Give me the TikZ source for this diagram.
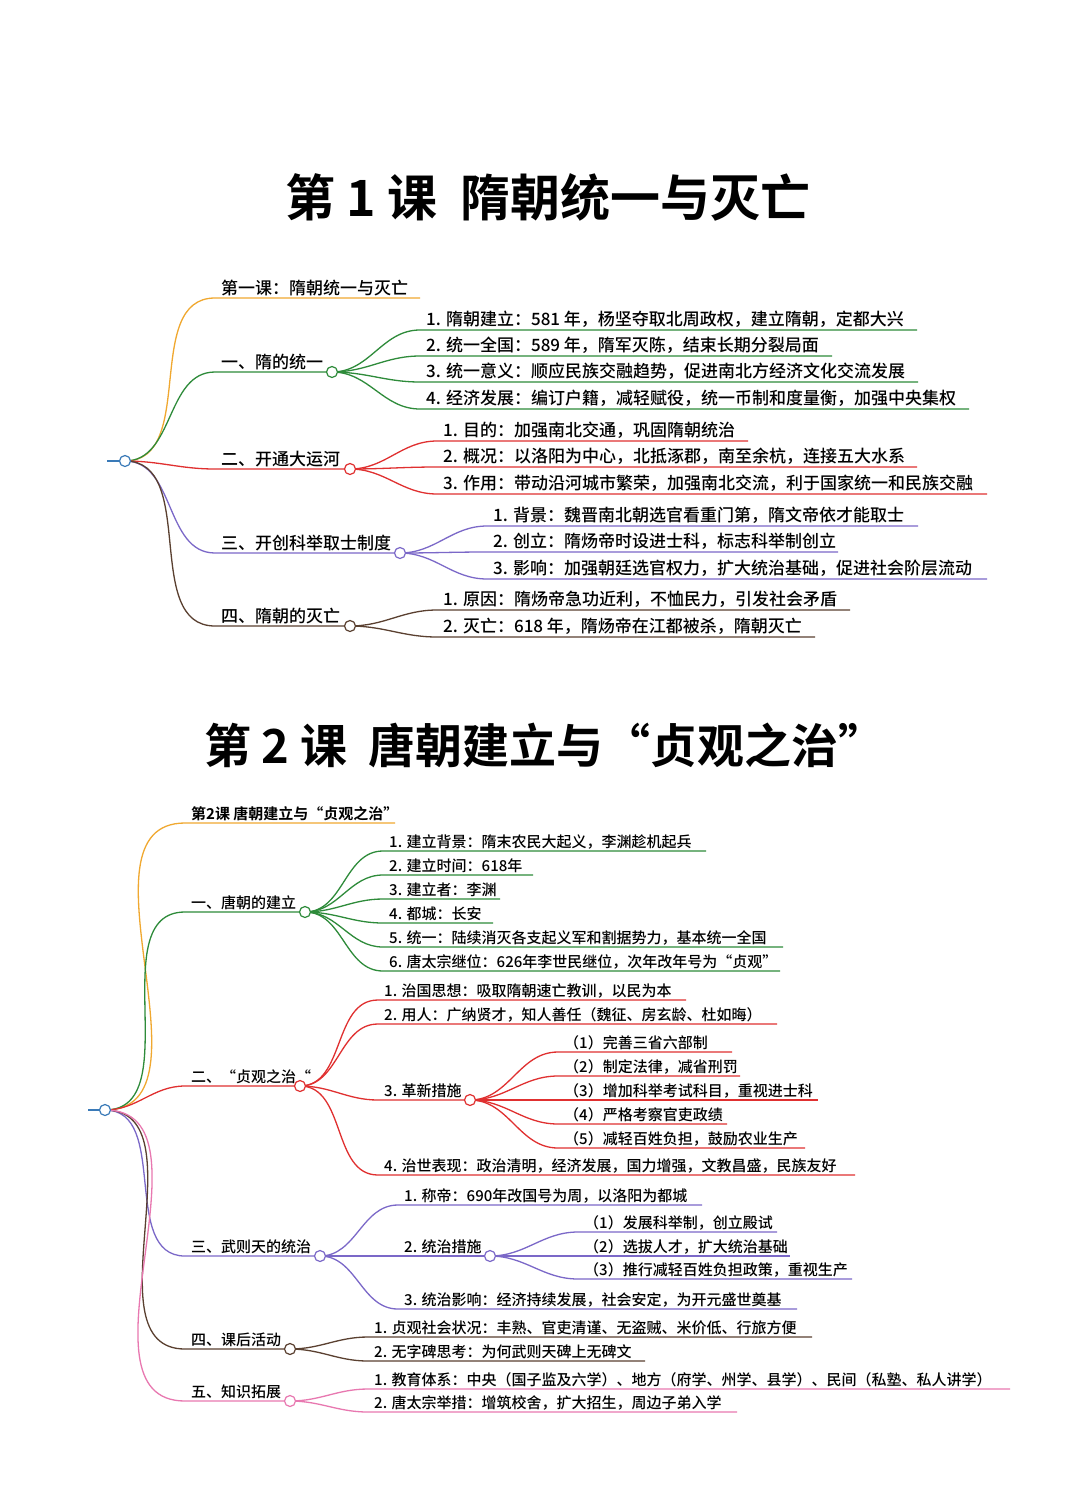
\documentclass[tikz,border=0pt]{standalone}
\usepackage{fontspec}
\setmainfont{Noto Sans CJK SC Medium}[BoldFont=Noto Sans CJK SC Bold]
\definecolor{cor}{HTML}{F0A830}
\definecolor{cgr}{HTML}{2E8B3A}
\definecolor{cre}{HTML}{E03030}
\definecolor{cpu}{HTML}{7B68C8}
\definecolor{cbr}{HTML}{5A4030}
\definecolor{cpk}{HTML}{E878B0}
\definecolor{cbl}{HTML}{3A7AB8}
\tikzset{
 lbl/.style={anchor=south west,inner sep=1pt,text=black},
 dot/.style={circle,draw=#1,fill=white,line width=1.2pt,inner sep=0pt,minimum size=11pt},
 br/.style={draw=#1,line width=1.3pt}
}
\newcommand\leaf[8]{% color, parent, x, y, xend, text, name, fontsize
 \coordinate (#7s) at (#3,#4); \coordinate (#7e) at (#5,#4);
 \draw[br=#1] (#2) to[out=0,in=180] (#7s) -- (#7e);
 \node[lbl,font=\fontsize{#8}{#8}\selectfont] (#7) at ([xshift=5pt,yshift=1pt]#7s) {#6};}
\begin{document}
\begin{tikzpicture}[x=1pt,y=-1pt]
\useasboundingbox[fill=white] (0,0) rectangle (1080,1512);
% ===== Section 1 =====
\node[font=\fontsize{50}{50}\selectfont\bfseries] (t1) at (548,197) {第 1 课\ \ 隋朝统一与灭亡};
\coordinate (r1a) at (107,461);
\coordinate (r1) at (125,461);
\draw[cbl,line width=2pt] (r1a) -- (r1);
\leaf{cor}{r1}{215}{298}{420}{第一课：隋朝统一与灭亡}{a0}{17}
\leaf{cgr}{r1}{215}{372}{332}{一、隋的统一}{a1}{17}
\leaf{cre}{r1}{215}{469}{350}{二、开通大运河}{a2}{17}
\leaf{cpu}{r1}{215}{553}{400}{三、开创科举取士制度}{a3}{17}
\leaf{cbr}{r1}{215}{626}{350}{四、隋朝的灭亡}{a4}{17}
\leaf{cgr}{a1e}{420}{330}{917}{1. 隋朝建立：581 年，杨坚夺取北周政权，建立隋朝，定都大兴}{a11}{17}
\leaf{cgr}{a1e}{420}{356}{832}{2. 统一全国：589 年，隋军灭陈，结束长期分裂局面}{a12}{17}
\leaf{cgr}{a1e}{420}{382}{918}{3. 统一意义：顺应民族交融趋势，促进南北方经济文化交流发展}{a13}{17}
\leaf{cgr}{a1e}{420}{409}{969}{4. 经济发展：编订户籍，减轻赋役，统一币制和度量衡，加强中央集权}{a14}{17}
\leaf{cre}{a2e}{437}{441}{748}{1. 目的：加强南北交通，巩固隋朝统治}{a21}{17}
\leaf{cre}{a2e}{437}{467}{917}{2. 概况：以洛阳为中心，北抵涿郡，南至余杭，连接五大水系}{a22}{17}
\leaf{cre}{a2e}{437}{494}{987}{3. 作用：带动沿河城市繁荣，加强南北交流，利于国家统一和民族交融}{a23}{17}
\leaf{cpu}{a3e}{487}{526}{918}{1. 背景：魏晋南北朝选官看重门第，隋文帝依才能取士}{a31}{17}
\leaf{cpu}{a3e}{487}{552}{838}{2. 创立：隋炀帝时设进士科，标志科举制创立}{a32}{17}
\leaf{cpu}{a3e}{487}{579}{987}{3. 影响：加强朝廷选官权力，扩大统治基础，促进社会阶层流动}{a33}{17}
\leaf{cbr}{a4e}{437}{610}{850}{1. 原因：隋炀帝急功近利，不恤民力，引发社会矛盾}{a41}{17}
\leaf{cbr}{a4e}{437}{637}{815}{2. 灭亡：618 年，隋炀帝在江都被杀，隋朝灭亡}{a42}{17}
\node[dot=cgr] at (a1e) {};
\node[dot=cre] at (a2e) {};
\node[dot=cpu] at (a3e) {};
\node[dot=cbr] at (a4e) {};
\node[dot=cbl] at (r1) {};
% ===== Section 2 =====
\node[font=\fontsize{47}{47}\selectfont\bfseries] (t2) at (545,745) {第 2 课\ \ 唐朝建立与“贞观之治”};
\coordinate (r2a) at (88,1110);
\coordinate (r2) at (105,1110);
\draw[cbl,line width=2pt] (r2a) -- (r2);
\leaf{cor}{r2}{185}{823}{395}{\bfseries 第2课 唐朝建立与“贞观之治”}{b0}{15}
\leaf{cgr}{r2}{185}{912}{305}{一、唐朝的建立}{b1}{15}
\leaf{cre}{r2}{185}{1086}{300}{二、“贞观之治“}{b2}{15}
\leaf{cpu}{r2}{185}{1256}{320}{三、武则天的统治}{b3}{15}
\leaf{cbr}{r2}{185}{1349}{290}{四、课后活动}{b4}{15}
\leaf{cpk}{r2}{185}{1401}{290}{五、知识拓展}{b5}{15}
\leaf{cgr}{b1e}{383}{851}{706}{1. 建立背景：隋末农民大起义，李渊趁机起兵}{b11}{15}
\leaf{cgr}{b1e}{383}{875}{533}{2. 建立时间：618年}{b12}{15}
\leaf{cgr}{b1e}{383}{899}{500}{3. 建立者：李渊}{b13}{15}
\leaf{cgr}{b1e}{383}{923}{493}{4. 都城：长安}{b14}{15}
\leaf{cgr}{b1e}{383}{947}{783}{5. 统一：陆续消灭各支起义军和割据势力，基本统一全国}{b15}{15}
\leaf{cgr}{b1e}{383}{971}{780}{6. 唐太宗继位：626年李世民继位，次年改年号为“贞观”}{b16}{15}
\leaf{cre}{b2e}{378}{1000}{686}{1. 治国思想：吸取隋朝速亡教训，以民为本}{b21}{15}
\leaf{cre}{b2e}{378}{1024}{777}{2. 用人：广纳贤才，知人善任（魏征、房玄龄、杜如晦）}{b22}{15}
\leaf{cre}{b2e}{378}{1100}{470}{3. 革新措施}{b23}{15}
\leaf{cre}{b2e}{378}{1175}{855}{4. 治世表现：政治清明，经济发展，国力增强，文教昌盛，民族友好}{b24}{15}
\leaf{cre}{b23e}{558}{1052}{732}{（1）完善三省六部制}{b231}{15}
\leaf{cre}{b23e}{558}{1076}{740}{（2）制定法律，减省刑罚}{b232}{15}
\leaf{cre}{b23e}{558}{1100}{818}{（3）增加科举考试科目，重视进士科}{b233}{15}
\leaf{cre}{b23e}{558}{1124}{727}{（4）严格考察官吏政绩}{b234}{15}
\leaf{cre}{b23e}{558}{1148}{805}{（5）减轻百姓负担，鼓励农业生产}{b235}{15}
\leaf{cpu}{b3e}{398}{1205}{702}{1. 称帝：690年改国号为周，以洛阳为都城}{b31}{15}
\leaf{cpu}{b3e}{398}{1256}{490}{2. 统治措施}{b32}{15}
\leaf{cpu}{b3e}{398}{1309}{797}{3. 统治影响：经济持续发展，社会安定，为开元盛世奠基}{b33}{15}
\leaf{cpu}{b32e}{578}{1232}{777}{（1）发展科举制，创立殿试}{b321}{15}
\leaf{cpu}{b32e}{578}{1256}{790}{（2）选拔人才，扩大统治基础}{b322}{15}
\leaf{cpu}{b32e}{578}{1279}{852}{（3）推行减轻百姓负担政策，重视生产}{b323}{15}
\leaf{cbr}{b4e}{368}{1337}{812}{1. 贞观社会状况：丰熟、官吏清谨、无盗贼、米价低、行旅方便}{b41}{15}
\leaf{cbr}{b4e}{368}{1361}{645}{2. 无字碑思考：为何武则天碑上无碑文}{b42}{15}
\leaf{cpk}{b5e}{368}{1389}{1010}{1. 教育体系：中央（国子监及六学）、地方（府学、州学、县学）、民间（私塾、私人讲学）}{b51}{15}
\leaf{cpk}{b5e}{368}{1412}{737}{2. 唐太宗举措：增筑校舍，扩大招生，周边子弟入学}{b52}{15}
\node[dot=cgr] at (b1e) {};
\node[dot=cre] at (b2e) {};
\node[dot=cre] at (b23e) {};
\node[dot=cpu] at (b3e) {};
\node[dot=cpu] at (b32e) {};
\node[dot=cbr] at (b4e) {};
\node[dot=cpk] at (b5e) {};
\node[dot=cbl] at (r2) {};
\end{tikzpicture}
\end{document}
